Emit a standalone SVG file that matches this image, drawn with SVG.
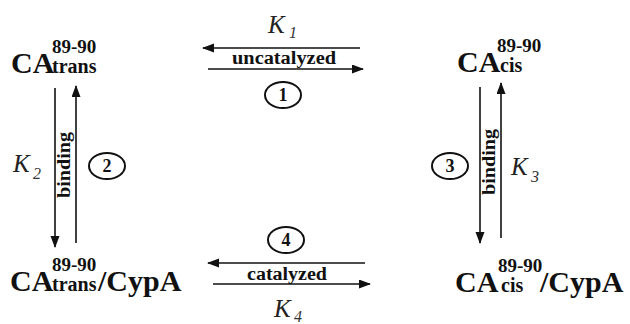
<svg xmlns="http://www.w3.org/2000/svg" width="630" height="324" viewBox="0 0 630 324" font-family="Liberation Serif, Times New Roman, serif">
<style>
.big{font-weight:bold;font-size:30px;fill:#111}
.sm{font-weight:bold;font-size:20px;fill:#111}
.sup{font-weight:bold;font-size:19px;fill:#111}
.lbl{font-weight:bold;font-size:18px;fill:#111}
.k{font-style:italic;font-size:25px;fill:#222}
.ks{font-style:italic;font-size:16px;fill:#333}
.num{font-weight:bold;font-size:18px;fill:#111;text-anchor:middle}
.arr{stroke:#111;stroke-width:1.6;fill:none;marker-end:url(#ah)}
.circ{fill:none;stroke:#111;stroke-width:2}
</style>
<defs>
<marker id="ah" markerUnits="userSpaceOnUse" markerWidth="12" markerHeight="10" refX="11" refY="4.5" orient="auto">
<path d="M0,0 L12,4.5 L0,9 z" fill="#111"/>
</marker>
</defs>
<rect width="630" height="324" fill="#fff"/>

<g id="ca-trans">
<text class="big" x="11" y="73">CA</text>
<text class="sup" x="52" y="53">89-90</text>
<text class="sm" x="52" y="73">trans</text>
</g>

<g id="ca-cis">
<text class="big" x="457" y="72">CA</text>
<text class="sup" x="497" y="52">89-90</text>
<text class="sm" x="500" y="72">cis</text>
</g>

<g id="ca-trans-cypa">
<text class="big" x="10" y="291">CA</text>
<text class="sup" x="52" y="271">89-90</text>
<text class="sm" x="52" y="291">trans</text>
<text class="big" x="98" y="291">/CypA</text>
</g>

<g id="ca-cis-cypa">
<text class="big" x="455" y="292">CA</text>
<text class="sup" x="498" y="272">89-90</text>
<text class="sm" x="501" y="292">cis</text>
<text class="big" x="540" y="292">/CypA</text>
</g>

<g id="connectors">
<line class="arr" x1="360" y1="48" x2="203" y2="48"/>
<line class="arr" x1="208" y1="69" x2="363" y2="69"/>
<line class="arr" x1="365" y1="263" x2="208" y2="263"/>
<line class="arr" x1="213" y1="284" x2="370" y2="284"/>
<line class="arr" x1="55" y1="88" x2="55" y2="247"/>
<line class="arr" x1="76" y1="243" x2="76" y2="86"/>
<line class="arr" x1="480" y1="87" x2="480" y2="243"/>
<line class="arr" x1="501" y1="238" x2="501" y2="83"/>
</g>

<g id="labels">
<text class="lbl" x="284" y="64" text-anchor="middle" textLength="104" lengthAdjust="spacingAndGlyphs">uncatalyzed</text>
<text class="lbl" x="287" y="280" text-anchor="middle" textLength="80" lengthAdjust="spacingAndGlyphs">catalyzed</text>
<text class="lbl" transform="translate(70,165) rotate(-90)" text-anchor="middle" textLength="66" lengthAdjust="spacingAndGlyphs">binding</text>
<text class="lbl" transform="translate(495,162) rotate(-90)" text-anchor="middle" textLength="66" lengthAdjust="spacingAndGlyphs">binding</text>

<text class="k" x="268" y="33">K</text><text class="ks" x="289" y="38">1</text>
<text class="k" x="13" y="172">K</text><text class="ks" x="33" y="179">2</text>
<text class="k" x="511" y="175">K</text><text class="ks" x="531" y="182">3</text>
<text class="k" x="274" y="317">K</text><text class="ks" x="294" y="322">4</text>
</g>

<g id="step1"><ellipse class="circ" cx="283" cy="95" rx="18" ry="13"/><text class="num" x="283" y="101">1</text></g>
<g id="step2"><ellipse class="circ" cx="107" cy="166" rx="18" ry="13"/><text class="num" x="107" y="172">2</text></g>
<g id="step3"><ellipse class="circ" cx="450" cy="166" rx="18" ry="13"/><text class="num" x="450" y="172">3</text></g>
<g id="step4"><ellipse class="circ" cx="286" cy="240" rx="18" ry="13"/><text class="num" x="286" y="246">4</text></g>
</svg>
